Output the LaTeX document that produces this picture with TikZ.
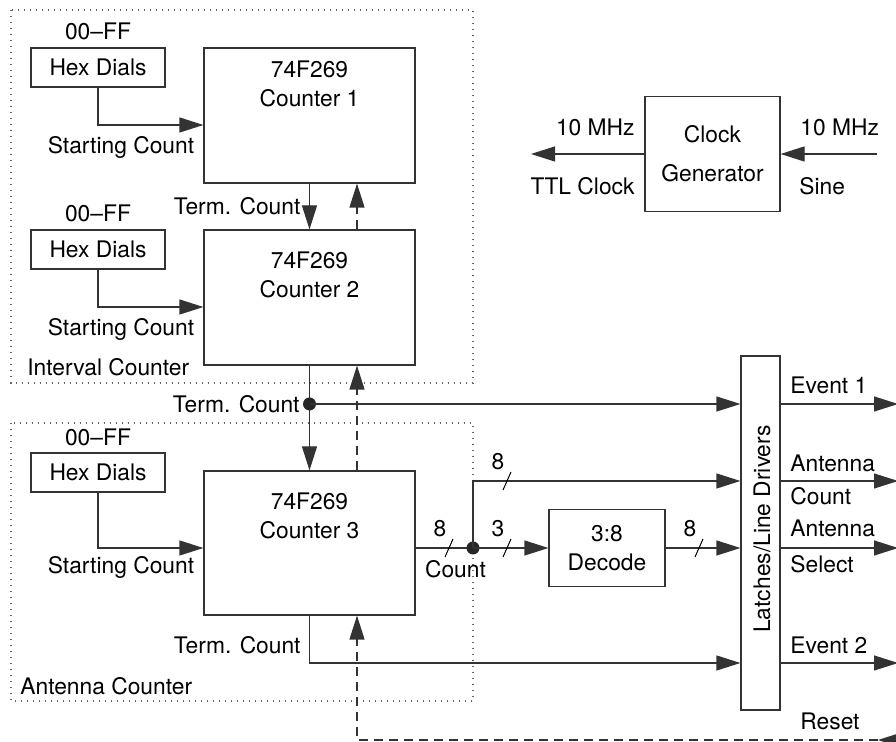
\documentclass[tikz,border=0pt]{standalone}
\usepackage{fontspec}
\setmainfont{TeX Gyre Heros}
\usetikzlibrary{arrows.meta,calc}

\tikzset{
  wire/.style={draw=black!80, line width=0.6pt},
  sig/.style={wire, -{Triangle[length=12pt,width=7.5pt]}},
  rst/.style={sig, dash pattern=on 4.5pt off 3pt},
  box/.style={draw=black!80, line width=0.6pt, fill=white},
  hex/.style={box, minimum width=67pt, minimum height=19.5pt},
  cnt/.style={box, minimum width=105.5pt, minimum height=67.5pt},
  frame/.style={draw=black!60, line width=0.6pt, dash pattern=on 0.6pt off 2.4pt},
}

\newcommand{\busmark}[2]{%
  \draw[line width=0.5pt] ($(#1)+(-4,9)$) -- ($(#1)+(4,-9)$);
  \node (#1n) at ($(#1)+(-9,-19)$) {#2};}

\begin{document}
\begin{tikzpicture}[x=0.5pt, y=-0.5pt, every node/.style={inner sep=0pt},
  font=\fontsize{11.4}{14.5}\selectfont]
\useasboundingbox (0,0) rectangle (896,742);

% counter groups
\draw[frame] (11,10) rectangle (473,383);
\draw[frame] (11,423) rectangle (473,701);
\node[anchor=west] (icl) at (27,367) {Interval Counter};
\node[anchor=west] (acl) at (20,686) {Antenna Counter};

\node[hex] (h1) at (98,67.5) {Hex Dials};
\node[hex] (h2) at (98,249.5) {Hex Dials};
\node[hex] (h3) at (98,472.5) {Hex Dials};
\node (h1v) at (98,31) {00--FF};
\node (h2v) at (98,213) {00--FF};
\node (h3v) at (98,437) {00--FF};

\node[cnt] (c1) at (309.5,115.5) {};
\node[cnt] (c2) at (309.5,297.5) {};
\node[cnt, minimum height=72pt] (c3) at (309.5,543) {};
\node[align=center] (c1t) at (309.5,83.5) {74F269\\Counter 1};
\node[align=center] (c2t) at (309.5,275) {74F269\\Counter 2};
\node[align=center] (c3t) at (309.5,515.5) {74F269\\Counter 3};

\draw[sig] (h1.south) |- ($(c1.west)+(0,9.5)$);
\draw[sig] (h2.south) |- ($(c2.west)+(0,9.5)$);
\draw[sig] (h3.south) |- ($(c3.west)+(0,5)$);
\node (s1) at (121,147) {Starting Count};
\node (s2) at (121,329) {Starting Count};
\node (s3) at (121,567) {Starting Count};

\node[box, minimum width=58pt, minimum height=38.5pt, align=center] (dec) at (607,548) {3:8\\Decode};
\node[box, minimum width=19.5pt, minimum height=177pt] (lat) at (760.5,533) {};
\node[rotate=90] (latt) at (762,529) {Latches/Line Drivers};

\coordinate (j1) at (309.5,404);
\coordinate (j2) at (473,548);
\coordinate (la) at (lat.west |- 0,481);
\coordinate (lb) at (lat.west |- 0,663);

% term. count chain
\draw[sig] (c1.south) -- (c2.north) node[midway, left=4.25pt] (t1) {Term. Count};
\draw[sig] (c2.south) -- (c3.north);
\fill[black!85] (j1) circle (3.25pt);
\node[left=4.75pt] (t2) at (j1) {Term. Count};
\draw[sig] (j1) -- (lat.west |- j1);
\draw[sig] (c3.south) |- (lb);
\node[anchor=east] (t3) at (301,645) {Term. Count};

% count bus
\draw[wire] (c3.east |- j2) -- (j2);
\fill[black!85] (j2) circle (3.25pt);
\draw[sig] (j2) |- (la);
\draw[sig] (j2) -- (dec.west);
\draw[sig] (dec.east) -- (lat.west |- dec.east);
\node (cntl) at (455.5,569) {Count};
\coordinate (b1) at (449,548);
\coordinate (b2) at (507,481);
\coordinate (b3) at (507,548);
\coordinate (b4) at (699,548);
\busmark{b1}{8}
\busmark{b2}{8}
\busmark{b3}{3}
\busmark{b4}{8}

% outputs
\coordinate (o1) at (898,404);
\coordinate (o2) at (898,481);
\coordinate (o3) at (898,548);
\coordinate (o4) at (898,663);
\draw[sig] (lat.east |- o1) -- (o1);
\draw[sig] (lat.east |- o2) -- (o2);
\draw[sig] (lat.east |- o3) -- (o3);
\draw[sig] (lat.east |- o4) -- (o4);
\node[anchor=west] (ev1) at (790,385) {Event 1};
\node[anchor=west] (an1) at (790,463) {Antenna};
\node[anchor=west] (an1b) at (790,496) {Count};
\node[anchor=west] (an2) at (790,528) {Antenna};
\node[anchor=west] (an2b) at (790,564) {Select};
\node[anchor=west] (ev2) at (790,645) {Event 2};

% reset
\coordinate (rc) at (357,740);
\coordinate (rin) at (878,740);
\coordinate (rend) at (903,740);
\draw[sig] (rend) -- (rin);
\draw[rst] (rin) -- (rc) -- (c3.south -| rc);
\draw[rst] (c3.north -| rc) -- (c2.south -| rc);
\draw[rst] (c2.north -| rc) -- (c1.south -| rc);
\node (rsl) at (830,721) {Reset};

% clock
\node[box, minimum width=67.5pt, minimum height=57.5pt, align=center] (clk) at (712.5,154) {Clock\\[5pt]Generator};
\coordinate (ttl) at (531,154);
\coordinate (sin) at (877,154);
\draw[sig] (clk.west) -- (ttl);
\draw[sig] (sin) -- (clk.east);
\node[anchor=east] (f1) at (635,127) {10 MHz};
\node[anchor=east] (ttlt) at (635,186) {TTL Clock};
\node[anchor=west] (f2) at (800,127) {10 MHz};
\node[anchor=west] (sint) at (799,186) {Sine};
\end{tikzpicture}
\end{document}
